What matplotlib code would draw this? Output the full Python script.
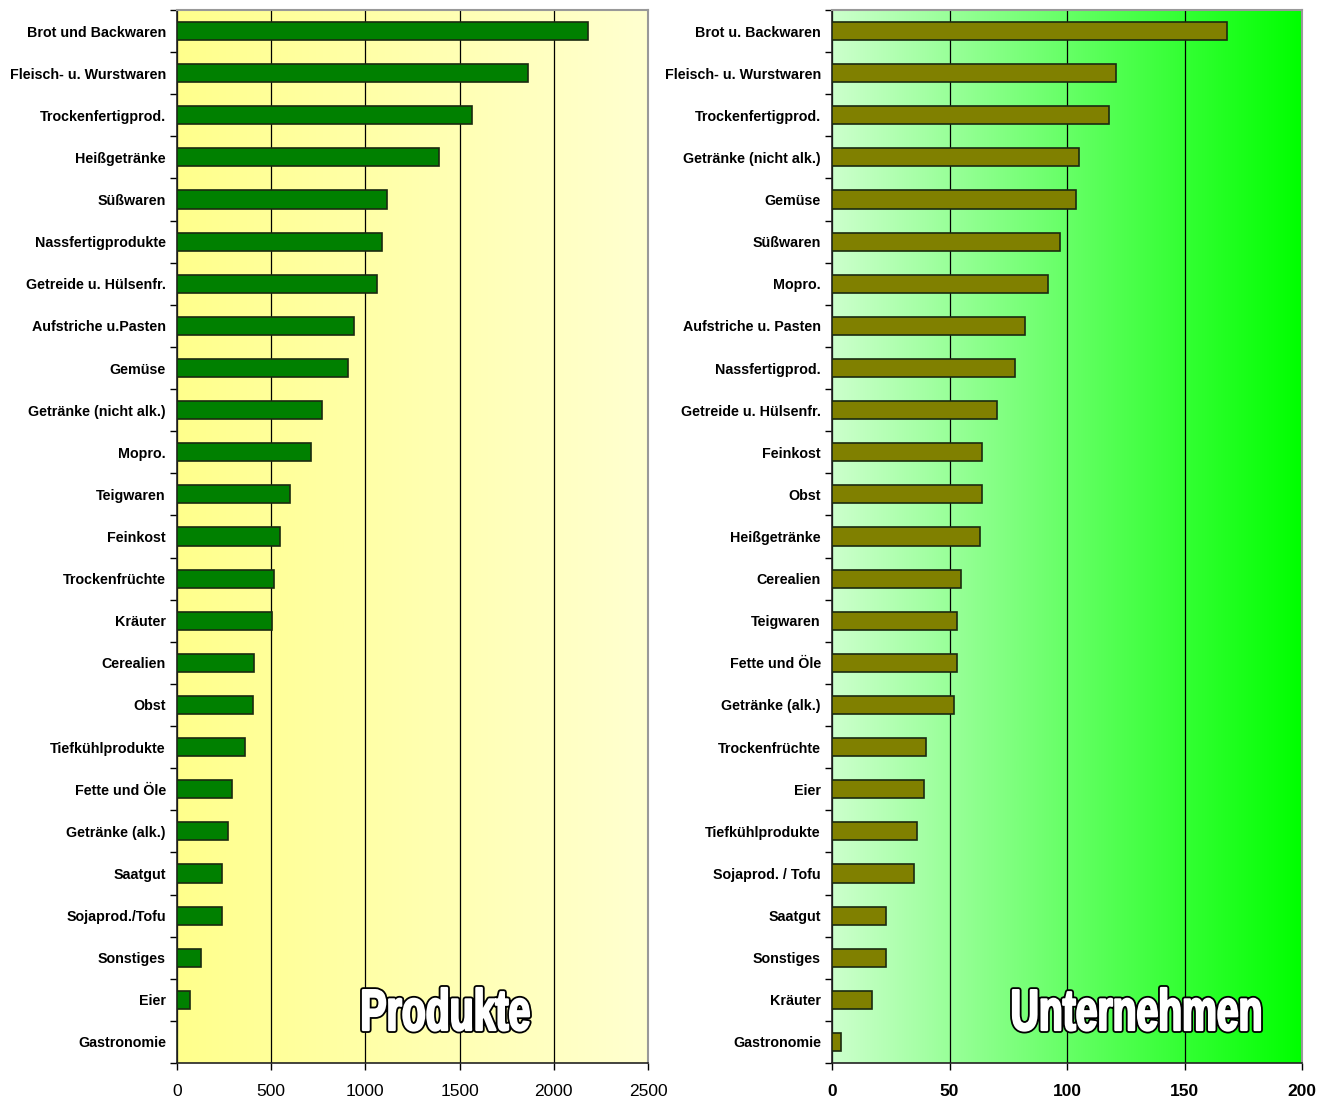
import numpy as np
import matplotlib
matplotlib.use("Agg")
import matplotlib.pyplot as plt
from matplotlib.colors import LinearSegmentedColormap
from matplotlib.textpath import TextPath
from matplotlib.patches import PathPatch
from matplotlib.font_manager import FontProperties
from matplotlib.transforms import Affine2D

prod_labels = ["Brot und Backwaren", "Fleisch- u. Wurstwaren", "Trockenfertigprod.", "Heißgetränke",
               "Süßwaren", "Nassfertigprodukte", "Getreide u. Hülsenfr.", "Aufstriche u.Pasten",
               "Gemüse", "Getränke (nicht alk.)", "Mopro.", "Teigwaren", "Feinkost",
               "Trockenfrüchte", "Kräuter", "Cerealien", "Obst", "Tiefkühlprodukte",
               "Fette und Öle", "Getränke (alk.)", "Saatgut", "Sojaprod./Tofu", "Sonstiges",
               "Eier", "Gastronomie"]
prod_values = [2180, 1865, 1565, 1390, 1115, 1088, 1062, 940, 908, 770, 711, 600, 547,
               515, 504, 409, 403, 361, 292, 271, 239, 239, 127, 69, 0]

unt_labels = ["Brot u. Backwaren", "Fleisch- u. Wurstwaren", "Trockenfertigprod.",
              "Getränke (nicht alk.)", "Gemüse", "Süßwaren", "Mopro.", "Aufstriche u. Pasten",
              "Nassfertigprod.", "Getreide u. Hülsenfr.", "Feinkost", "Obst", "Heißgetränke",
              "Cerealien", "Teigwaren", "Fette und Öle", "Getränke (alk.)", "Trockenfrüchte",
              "Eier", "Tiefkühlprodukte", "Sojaprod. / Tofu", "Saatgut", "Sonstiges",
              "Kräuter", "Gastronomie"]
unt_values = [168, 121, 118, 105, 104, 97, 92, 82, 78, 70, 64, 64, 63, 55, 53, 53, 52,
              40, 39, 36, 35, 23, 23, 17, 4]

prod_ticks = [0, 500, 1000, 1500, 2000, 2500]
unt_ticks = [0, 50, 100, 150, 200]

plt.rcParams['font.family'] = ['Liberation Sans', 'DejaVu Sans']

W, H = 1328, 1101
fig = plt.figure(figsize=(W / 100, H / 100), dpi=100)
ax1 = fig.add_axes([177/W, 1-1063/H, 471/W, 1053/H])
ax2 = fig.add_axes([832/W, 1-1063/H, 470/W, 1053/H])


def panel(ax, labels, values, ticks, xmax, barcolor, cmap, tick_bold):
    n = len(labels)
    y = np.arange(n)
    grad = np.linspace(0, 1, 256).reshape(1, -1)
    ax.imshow(grad, cmap=cmap, aspect='auto', extent=(0, xmax, n - 0.5, -0.5),
              zorder=0, interpolation='bicubic')
    ax.barh(y, values, height=0.43, color=barcolor, edgecolor='#1a2a10', linewidth=1.2, zorder=3)
    ax.set_xlim(0, xmax)
    ax.set_ylim(n - 0.5, -0.5)
    ax.set_xticks(ticks)
    ax.set_xticklabels([str(t) for t in ticks], fontsize=12.5,
                       fontweight='bold' if tick_bold else 'normal')
    ax.set_yticks(y)
    ax.set_yticklabels(labels, fontsize=10.3, fontweight='bold')
    ax.set_yticks(np.arange(n + 1) - 0.5, minor=True)
    ax.tick_params(axis='y', which='major', length=0, pad=8)
    ax.tick_params(axis='y', which='minor', length=5, direction='out', width=1)
    ax.tick_params(axis='x', length=5, direction='out', width=1, pad=10)
    ax.grid(axis='x', color='black', linewidth=0.9, zorder=1)
    ax.set_axisbelow(True)
    for s in ['left', 'bottom']:
        ax.spines[s].set_color('#222222')
        ax.spines[s].set_linewidth(1.2)
    for s in ['top', 'right']:
        ax.spines[s].set_color('#999999')
        ax.spines[s].set_linewidth(1.5)


def title(text, x0, x1, y_top, y_base):
    prop = FontProperties(family='Liberation Sans', weight='bold')
    tp = TextPath((0, 0), text, size=1, prop=prop)
    ext = tp.get_extents()
    sx = (x1 - x0) / ext.width
    sy = (y_base - y_top) / ext.y1
    tr = Affine2D().translate(-ext.x0, 0).scale(sx / W, sy / H).translate(x0 / W, 1 - y_base / H) \
        + fig.transFigure
    fig.add_artist(PathPatch(tp, facecolor='white', edgecolor='black', linewidth=4.2,
                             transform=tr, zorder=10, joinstyle='round'))
    fig.add_artist(PathPatch(tp, facecolor='white', edgecolor='white', linewidth=1.6,
                             transform=tr, zorder=11, joinstyle='round'))


cmap1 = LinearSegmentedColormap.from_list('y', ['#FFFF8C', '#FFFFD0'])
cmap2 = LinearSegmentedColormap.from_list('g', ['#CCFFCC', '#00FF00'])

panel(ax1, prod_labels, prod_values, prod_ticks, 2500, '#008000', cmap1, False)
panel(ax2, unt_labels, unt_values, unt_ticks, 200, '#808000', cmap2, True)

title('Produkte', 363, 529, 988, 1030)
title('Unternehmen', 1013, 1260, 988, 1030)

fig.savefig('out.png', dpi=100)
